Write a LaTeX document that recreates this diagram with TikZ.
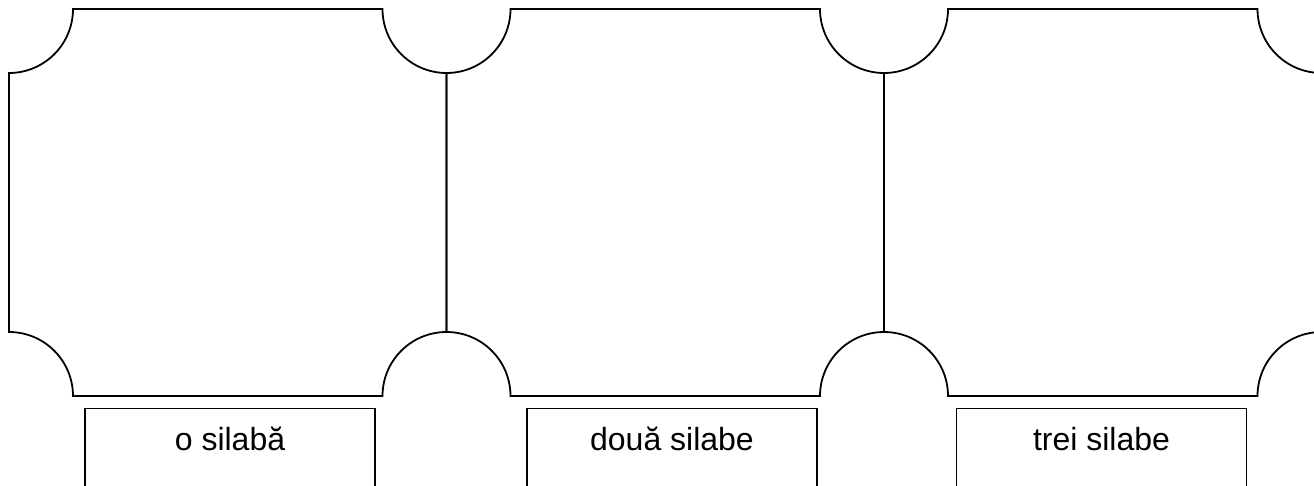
\documentclass[tikz,border=0pt]{standalone}
\usepackage{fontspec}
\setmainfont{Liberation Sans}
\usepackage{tikz}
\usetikzlibrary{positioning}
\tikzset{
  panelline/.style={draw=black,line width=1.8pt,line join=miter},
  labelbox/.style={rectangle,draw=black,line width=1.4pt,anchor=north,
                   minimum width=290pt,inner ysep=18pt,text height=24pt,text depth=60pt,
                   font=\fontsize{32}{38}\selectfont}
}

\begin{document}
\begin{tikzpicture}[x=1pt,y=1pt]
  \useasboundingbox (0,0) rectangle (1314,485);
  \clip (0,0) rectangle (1314,485);

  % three panels with cut corners
  \foreach \L/\R in {9/446.5, 446.5/884, 884/1321.5}{
    \draw[panelline] (\L+64,476) -- (\R-64,476)
      arc[start angle=180,end angle=270,radius=64] -- (\R,89+64)
      arc[start angle=90,end angle=180,radius=64] -- (\L+64,89)
      arc[start angle=0,end angle=90,radius=64] -- (\L,476-64)
      arc[start angle=270,end angle=360,radius=64] -- cycle;
  }

  \node[labelbox] (one)   at (230,77)    {o silabă};
  \node[labelbox] (two)   at (672,77)    {două silabe};
  \node[labelbox] (three) at (1101.5,77) {trei silabe};

\end{tikzpicture}
\end{document}
